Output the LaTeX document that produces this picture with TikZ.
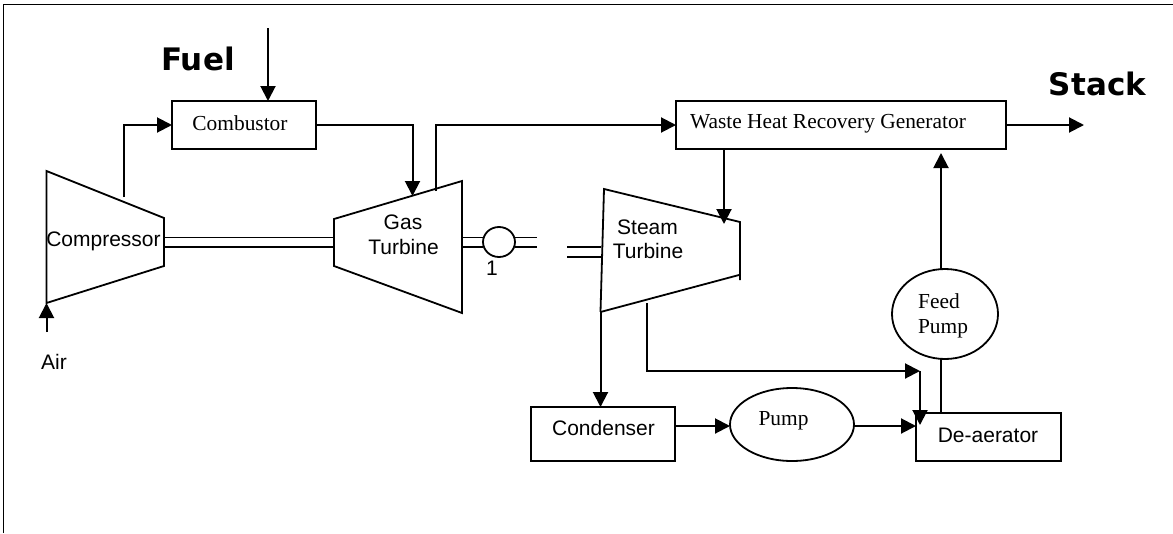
\documentclass[tikz,border=0pt]{standalone}
\usepackage{fontspec}
\setmainfont{Liberation Serif}
\newfontfamily\lsans{Liberation Sans}
\newfontfamily\dbold{DejaVu Sans}[BoldFont={DejaVu Sans Bold}]
\usetikzlibrary{arrows.meta,shapes.geometric}
\tikzset{
  every node/.style={inner sep=0pt,outer sep=0pt},
  outline/.style={line width=1.8pt,line join=miter},
  flow/.style={line width=2pt,-{Triangle[length=15pt,width=15pt]}},
  plainline/.style={line width=2pt},
  shaft/.style={line width=1.6pt},
  boxn/.style={draw,line width=1.8pt,rectangle,anchor=north west},
  roundn/.style={draw,line width=1.8pt,ellipse},
  sanslabel/.style={font=\lsans\fontsize{21}{24}\selectfont,text=black},
  seriflabel/.style={font=\fontsize{21.4}{24}\selectfont,text=black},
  boldlabel/.style={font=\dbold\bfseries\fontsize{31}{34}\selectfont,text=black}
}
\begin{document}
\begin{tikzpicture}[x=1pt,y=-1pt]
\useasboundingbox (0,0) rectangle (1173,533);
\fill[white] (0,0) rectangle (1173,533);
% frame
\draw[line width=1.4pt] (3.5,533) -- (3.5,4.5) -- (1173,4.5);
% boxes
\node[boxn,minimum width=144pt,minimum height=48pt] (comb) at (172,101) {};
\node[boxn,minimum width=330pt,minimum height=48pt] (whrg) at (676,101) {};
\node[boxn,minimum width=144pt,minimum height=54pt] (cond) at (531,407) {};
\node[boxn,minimum width=145pt,minimum height=48pt] (dea) at (916,413) {};
\node[roundn,minimum width=124pt,minimum height=73pt] (pump) at (792,424.5) {};
\node[roundn,minimum width=106pt,minimum height=90pt] (feed) at (945,314) {};
\node[roundn,minimum width=32pt,minimum height=30pt] (gen) at (499,242) {};
% turbomachines
\coordinate (c1) at (46.5,171); \coordinate (c2) at (164,218);
\coordinate (c3) at (164,266); \coordinate (c4) at (46.5,303);
\draw[outline] (c1) -- (c2) -- (c3) -- (c4) -- cycle;
\coordinate (g1) at (334,219); \coordinate (g2) at (462,181);
\coordinate (g3) at (462,313); \coordinate (g4) at (334,266);
\draw[outline] (g1) -- (g2) -- (g3) -- (g4) -- cycle;
\coordinate (s1) at (604,189); \coordinate (s2) at (740,222);
\coordinate (s3) at (740,280); \coordinate (s4) at (739,275); \coordinate (s5) at (600.5,312);
\draw[outline] (s5) -- (s1) -- (s2) -- (s3);
\draw[outline] (s4) -- (s5);
% shafts
\foreach \yy in {237.5,247}{
  \draw[shaft] (164,\yy) -- (334,\yy);
  \draw[shaft] (462,\yy) -- (483,\yy);
  \draw[shaft] (515,\yy) -- (537,\yy);
}
\foreach \yy in {247,257}{ \draw[shaft] (567,\yy) -- (601,\yy); }
% connectors
\coordinate (fueltop) at (268,28);
\coordinate (fuelin) at (268,101);
\draw[flow] (fueltop) -- (fuelin);
\coordinate (cout) at (124,197);
\coordinate (cin) at (172,125);
\draw[flow] (cout) |- (cin);
\coordinate (cbo) at (316,125);
\coordinate (gin) at (412.5,196);
\draw[flow] (cbo) -| (gin);
\coordinate (gout) at (436,191);
\coordinate (win) at (676,125);
\draw[flow] (gout) |- (win);
\coordinate (airin) at (46.5,332);
\draw[flow] (airin) -- (c4);
\coordinate (wout) at (1006,125);
\coordinate (stack) at (1084,125);
\draw[flow] (wout) -- (stack);
\coordinate (wst) at (724,149);
\coordinate (sin) at (724,224);
\draw[flow] (wst) -- (sin);
\coordinate (scond) at (600.5,407);
\draw[flow] (s5) -- (scond);
\coordinate (sex) at (647,303);
\coordinate (sexe) at (920,371);
\draw[flow] (sex) |- (sexe);
\coordinate (deain) at (920,425);
\draw[flow] (sexe) -- (deain);
\coordinate (cp1) at (675,426); \coordinate (cp2) at (730,426);
\draw[flow] (cp1) -- (cp2);
\coordinate (pd1) at (854,426); \coordinate (pd2) at (916,426);
\draw[flow] (pd1) -- (pd2);
\coordinate (df1) at (941,413); \coordinate (df2) at (941,359);
\draw[plainline] (df1) -- (df2);
\coordinate (fw1) at (941,269); \coordinate (fw2) at (941,153);
\draw[flow] (fw1) -- (fw2);
% labels
\node[boldlabel] (lfuel) at (198,59) {Fuel};
\node[boldlabel] (lstack) at (1097.5,84) {Stack};
\node[seriflabel] (lcomb) at (240,123) {Combustor};
\node[seriflabel] (lwhrg) at (828,124) {Waste Heat Recovery Generator};
\node[seriflabel] (lfeed) at (939,301) {Feed};
\node[seriflabel] (lfp) at (943,329) {Pump};
\node[seriflabel] (lpump) at (783.5,421) {Pump};
\node[sanslabel] (lcomp) at (103.5,241) {Compressor};
\node[sanslabel] (lgas) at (403,222) {Gas};
\node[sanslabel] (lgt) at (403.5,247) {Turbine};
\node[sanslabel] (lst) at (647.5,227) {Steam};
\node[sanslabel] (lstt) at (648,251) {Turbine};
\node[sanslabel] (lcond) at (603.5,428) {Condenser};
\node[sanslabel] (ldea) at (988,435) {De-aerator};
\node[sanslabel] (lair) at (54,362) {Air};
\node[sanslabel] (lone) at (492,268) {1};
\end{tikzpicture}
\end{document}
